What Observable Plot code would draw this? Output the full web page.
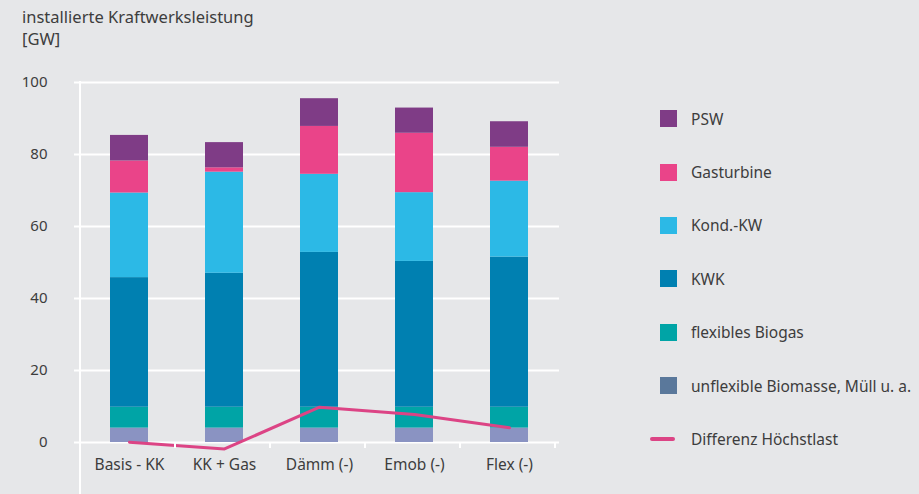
<!DOCTYPE html>
<html>
<head>
<meta charset="utf-8">
<script src="https://cdn.jsdelivr.net/npm/d3@7"></script>
<script src="https://cdn.jsdelivr.net/npm/@observablehq/plot@0.6"></script>
<style>
  html, body { margin: 0; padding: 0; background: #e6e7e9; }
  body { width: 919px; height: 494px; position: relative; overflow: hidden; font-family: "Noto Sans", Lato, sans-serif; color: #3d3d3d; }
  #title { position: absolute; left: 22px; top: 6px; font-size: 16.5px; line-height: 22px; }
  #chart { position: absolute; left: 0; top: 0; }
  #legend { position: absolute; left: 650px; top: 92px; font-size: 15.5px; }
  .row { height: 53.4px; display: flex; align-items: center; }
  .icon { width: 41px; height: 17px; position: relative; flex: none; }
  .sw { position: absolute; left: 10px; top: 0; width: 17px; height: 17px; }
  .ln { position: absolute; left: 0; top: 6.5px; width: 25px; height: 4px; border-radius: 2px; }
</style>
</head>
<body>
<div id="title">installierte Kraftwerksleistung<br>[GW]</div>
<div id="chart"></div>
<div id="legend"></div>
<script>
// ---- data ----
const categories = ["Basis - KK", "KK + Gas", "Dämm (-)", "Emob (-)", "Flex (-)"];
const seriesNames = ["unflexible Biomasse, Müll u. a.", "flexibles Biogas", "KWK", "Kond.-KW", "Gasturbine", "PSW"];
const unflexible = [4.0, 4.0, 4.0, 4.0, 4.0];
const biogas     = [5.8, 5.8, 5.8, 5.8, 5.8];
const kwk        = [36.0, 37.2, 43.0, 40.5, 41.7];
const kondKW     = [23.5, 28.1, 21.7, 19.1, 21.1];
const gasturbine = [8.9, 1.2, 13.3, 16.5, 9.4];
const psw        = [7.1, 7.0, 7.7, 7.0, 7.1];
const diffLabel  = "Differenz Höchstlast";
const diffHoechstlast = [0.1, -1.8, 9.8, 7.8, 4.1];
const yTicks = [0, 20, 40, 60, 80, 100];

// ---- styles ----
const barColors    = ["#8a93c2", "#00a4a6", "#0080b1", "#2cb9e6", "#ea4489", "#7f3c86"];
const legendColors = ["#5a789b", "#00a4a6", "#0080b1", "#2cb9e6", "#ea4489", "#7f3c86"];
const lineColor = "#dc4485";
const textColor = "#3d3d3d";

const seriesValues = [unflexible, biogas, kwk, kondKW, gasturbine, psw];
const stacked = [];
categories.forEach((c, i) => {
  seriesNames.forEach((s, j) => stacked.push({cat: c, series: s, value: seriesValues[j][i]}));
});
const diffData = categories.map((c, i) => ({cat: c, value: diffHoechstlast[i]}));

const W = 600, H = 494, mL = 80, mR = 41, mT = 82, mB = 52;
const plot = Plot.plot({
  width: W, height: H,
  marginTop: mT, marginBottom: mB, marginLeft: mL, marginRight: mR,
  style: {background: "transparent", fontFamily: "'Noto Sans', Lato, sans-serif", fontSize: "15px", color: textColor},
  x: {domain: categories, paddingInner: 0.6, paddingOuter: 0.3, label: null},
  y: {domain: [0, 100], label: null},
  color: {domain: seriesNames, range: barColors},
  marks: [
    Plot.gridY(yTicks, {stroke: "white", strokeOpacity: 1, strokeWidth: 2}),
    Plot.axisY(yTicks, {tickSize: 6, tickPadding: 27, stroke: "white", strokeWidth: 2, strokeOpacity: 1, fill: textColor, label: null}),
    Plot.axisX({tickSize: 0, tickPadding: 16, fill: textColor, fontSize: 15.5, label: null}),
    Plot.barY(stacked, {x: "cat", y: "value", fill: "series"}),
    Plot.line(diffData, {x: "cat", y: "value", stroke: lineColor, strokeWidth: 3})
  ]
});
document.getElementById("chart").appendChild(plot);

// axis decorations derived from the scales
const sx = plot.scale("x"), sy = plot.scale("y");
const svg = d3.select(plot);
const y0 = sy.apply(0);
const step = sx.step ?? (sx.range[1] - sx.range[0]) / categories.length;
const g = svg.append("g").attr("stroke", "white").attr("stroke-width", 2);
d3.range(categories.length + 1).forEach(i => {
  const xx = sx.range[0] + i * step;
  g.append("line").attr("x1", xx).attr("x2", xx).attr("y1", y0).attr("y2", y0 + 6);
});
g.append("line").attr("x1", sx.range[0]).attr("x2", sx.range[0]).attr("y1", sy.apply(100) - 1).attr("y2", H);

// legend (top to bottom: PSW ... unflexible, then line)
const legend = d3.select("#legend");
for (let j = seriesNames.length - 1; j >= 0; j--) {
  const row = legend.append("div").attr("class", "row");
  row.append("div").attr("class", "icon").append("div").attr("class", "sw").style("background", legendColors[j]);
  row.append("span").text(seriesNames[j]);
}
const lr = legend.append("div").attr("class", "row");
lr.append("div").attr("class", "icon").append("div").attr("class", "ln").style("background", lineColor);
lr.append("span").text(diffLabel);
</script>
</body>
</html>
